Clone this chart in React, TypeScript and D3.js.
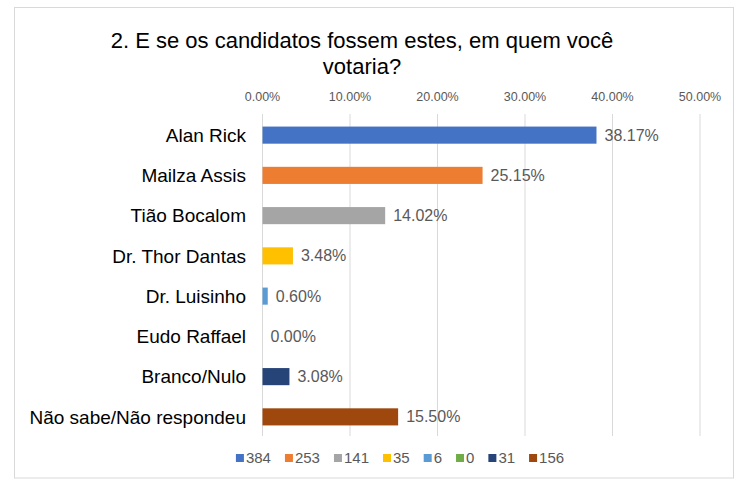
import * as React from 'react';
import * as d3 from 'd3';

const categories = [
  'Alan Rick',
  'Mailza Assis',
  'Tião Bocalom',
  'Dr. Thor Dantas',
  'Dr. Luisinho',
  'Eudo Raffael',
  'Branco/Nulo',
  'Não sabe/Não respondeu',
];
const percents = [38.17, 25.15, 14.02, 3.48, 0.6, 0.0, 3.08, 15.5];
const counts = [384, 253, 141, 35, 6, 0, 31, 156];
const colors = ['#4472C4', '#ED7D31', '#A5A5A5', '#FFC000', '#5B9BD5', '#70AD47', '#264478', '#9E480E'];
const xTicks = [0, 10, 20, 30, 40, 50];
const titleLines = ['2. E se os candidatos fossem estes, em quem você', 'votaria?'];

const width = 748;
const height = 485;
const font = '"Liberation Sans", Arial, sans-serif';

export default function App() {
  const svgRef = React.useRef() as React.MutableRefObject<any>; // ref for d3

  React.useEffect(() => {
    const svg = d3.select(svgRef.current);
    svg.selectAll('*').remove();

    const x = d3.scaleLinear().domain([0, 50]).range([262.5, 700]);
    const y = d3.scaleBand<string>()
      .domain(categories)
      .range([115, 437])
      .paddingInner(0.575)
      .paddingOuter(0.2875);

    // chart frame
    svg.append('rect')
      .attr('x', 14.5).attr('y', 7.5)
      .attr('width', 719).attr('height', 470.5)
      .attr('fill', '#fff')
      .attr('stroke', '#d9d9d9');

    // title
    svg.append('g').selectAll('text')
      .data(titleLines)
      .enter()
      .append('text')
      .attr('x', 362)
      .attr('y', (_, i) => 48 + i * 26)
      .attr('text-anchor', 'middle')
      .style('font-family', font)
      .style('font-size', '22px')
      .attr('fill', '#000')
      .text(d => d);

    // gridlines + tick labels
    const grid = svg.append('g');
    grid.selectAll('line')
      .data(xTicks)
      .enter()
      .append('line')
      .attr('x1', d => x(d)).attr('x2', d => x(d))
      .attr('y1', 114).attr('y2', 436)
      .attr('stroke', '#d9d9d9')
      .attr('stroke-width', 1);
    grid.selectAll('text')
      .data(xTicks)
      .enter()
      .append('text')
      .attr('x', d => x(d))
      .attr('y', 101)
      .attr('text-anchor', 'middle')
      .style('font-family', font)
      .style('font-size', '12.5px')
      .attr('fill', '#595959')
      .text(d => d3.format('.2f')(d) + '%');

    // bars
    svg.append('g').selectAll('rect')
      .data(percents)
      .enter()
      .append('rect')
      .attr('x', x(0))
      .attr('y', (_, i) => y(categories[i]) as number)
      .attr('width', d => x(d) - x(0))
      .attr('height', y.bandwidth())
      .attr('fill', (_, i) => colors[i]);

    // category labels
    svg.append('g').selectAll('text')
      .data(categories)
      .enter()
      .append('text')
      .attr('x', 246)
      .attr('y', d => (y(d) as number) + y.bandwidth() / 2)
      .attr('dy', '0.35em')
      .attr('text-anchor', 'end')
      .style('font-family', font)
      .style('font-size', '19px')
      .attr('fill', '#000')
      .text(d => d);

    // value labels
    svg.append('g').selectAll('text')
      .data(percents)
      .enter()
      .append('text')
      .attr('x', d => x(d) + 8)
      .attr('y', (_, i) => (y(categories[i]) as number) + y.bandwidth() / 2)
      .attr('dy', '0.35em')
      .style('font-family', font)
      .style('font-size', '16px')
      .attr('fill', '#595959')
      .text(d => d3.format('.2f')(d) + '%');

    // legend, laid out by measured text widths and centred
    const legend = svg.append('g');
    const items = legend.selectAll('g')
      .data(counts)
      .enter()
      .append('g');
    items.append('rect')
      .attr('width', 8).attr('height', 8)
      .attr('y', 454)
      .attr('fill', (_, i) => colors[i]);
    items.append('text')
      .attr('x', 10)
      .attr('y', 463)
      .style('font-family', font)
      .style('font-size', '15px')
      .attr('fill', '#595959')
      .text(d => String(d));

    const widths: number[] = [];
    items.select('text').each(function () {
      widths.push(10 + (this as SVGTextElement).getComputedTextLength());
    });
    const gap = 14;
    const total = d3.sum(widths) + gap * (widths.length - 1);
    let cx = 400 - total / 2;
    items.attr('transform', (_, i) => {
      const t = `translate(${cx},0)`;
      cx += widths[i] + gap;
      return t;
    });
  }, []);

  return (
    <div>
      <svg
        width={width}
        height={height}
        ref={svgRef}
        style={{ position: 'absolute', left: 0, top: 0, background: '#fff' }}
      />
    </div>
  );
}
